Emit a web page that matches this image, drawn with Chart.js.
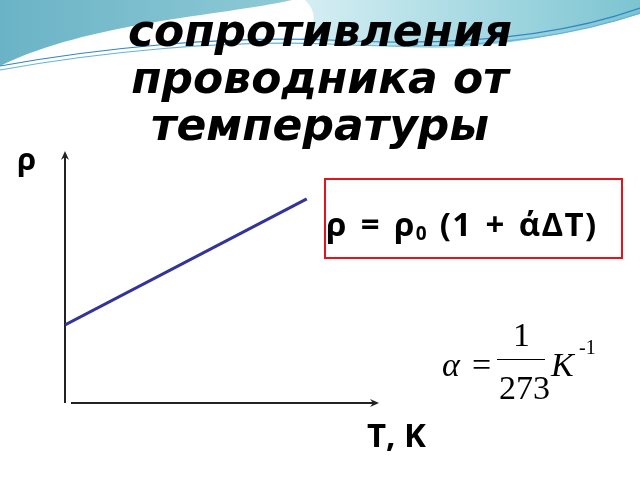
<!DOCTYPE html>
<html>
<head>
<meta charset="utf-8">
<script src="https://cdn.jsdelivr.net/npm/chart.js@4.4.1/dist/chart.umd.min.js"></script>
<style>
  body { margin: 0; background: #fff; }
  #wrap { position: relative; width: 640px; height: 480px; overflow: hidden; }
  #myChart { position: absolute; left: 0; top: 0; }
  .t { position: absolute; white-space: nowrap; color: #000; }
  #title { left: 0; width: 640px; top: 7px; text-align: center; font: italic bold 44px "DejaVu Sans"; line-height: 47px; }
  #box { position: absolute; left: 324px; top: 178px; width: 295px; height: 77px; border: 2px solid #e3151a; }
  #law { left: 326px; top: 201px; font: 700 33px "Open Sans"; letter-spacing: 1.4px; word-spacing: 3px; }
  #law sub { font-size: 19px; vertical-align: -4px; letter-spacing: 0; }
  .serif { font-family: "Liberation Serif"; font-size: 34px; }
  #frac { position: absolute; left: 497px; top: 359px; width: 48px; height: 0; border-top: 1.5px solid #000; }
</style>
</head>
<body>
<div id="wrap">
  <canvas id="myChart" width="640" height="480"></canvas>
  <div class="t" id="title">сопротивления<br>проводника от<br>температуры</div>
  <div id="box"></div>
  <div class="t" id="law">ρ = ρ<sub>0</sub> (1 + άΔT)</div>
  <div class="t serif" style="left:442px; top:346px; font-style:italic;">α</div>
  <div class="t serif" style="left:472px; top:346px;">=</div>
  <div class="t serif" style="left:513px; top:316px;">1</div>
  <div id="frac"></div>
  <div class="t serif" style="left:499px; top:369px;">273</div>
  <div class="t serif" style="left:551px; top:346px; font-style:italic;">K</div>
  <div class="t serif" style="left:579px; top:336px; font-size:20px;">-1</div>
  <div class="t" style="left:17px; top:137px; font: 700 31px 'Open Sans';">ρ</div>
  <div class="t" style="left:367px; top:412px; font: 700 33px 'Open Sans';">T, K</div>
</div>
<script>
// температура и удельное сопротивление (условные единицы)
var tempValues = [0, 77];
var rhoValues = [31, 81];

var points = tempValues.map(function (t, i) { return {x: t, y: rhoValues[i]}; });

function arrow(ctx, x, y, dx, dy) {
  ctx.save();
  ctx.translate(x, y);
  ctx.rotate(Math.atan2(dy, dx));
  ctx.beginPath();
  ctx.moveTo(0, 0);
  ctx.lineTo(-9, -4);
  ctx.lineTo(-6, 0);
  ctx.lineTo(-9, 4);
  ctx.closePath();
  ctx.fill();
  ctx.restore();
}

// фоновая «волна» слайда
var decor = {
  id: "decor",
  beforeDraw: function (chart) {
    var ctx = chart.ctx;
    ctx.save();
    var g = ctx.createLinearGradient(0, 0, 290, 0);
    g.addColorStop(0, "#6ab3c6");
    g.addColorStop(1, "#8fcad6");
    ctx.fillStyle = g;
    ctx.beginPath();
    ctx.moveTo(0, 0);
    ctx.lineTo(292, 0);
    ctx.bezierCurveTo(220, 16, 90, 22, 0, 66);
    ctx.closePath();
    ctx.fill();

    var g2 = ctx.createLinearGradient(300, 0, 640, 0);
    g2.addColorStop(0, "#d6eff3");
    g2.addColorStop(0.5, "#a9dae3");
    g2.addColorStop(1, "#7cc4d1");
    ctx.fillStyle = g2;
    ctx.beginPath();
    ctx.moveTo(305, 0);
    ctx.lineTo(640, 0);
    ctx.lineTo(640, 14);
    ctx.bezierCurveTo(580, 32, 500, 48, 430, 48);
    ctx.bezierCurveTo(380, 47, 330, 42, 300, 40);
    ctx.bezierCurveTo(320, 25, 315, 10, 305, 0);
    ctx.closePath();
    ctx.fill();

    ctx.lineWidth = 1.2;
    ctx.strokeStyle = "#2f86c0";
    ctx.beginPath();
    ctx.moveTo(0, 66);
    ctx.bezierCurveTo(100, 48, 220, 36, 330, 40);
    ctx.bezierCurveTo(440, 46, 550, 40, 640, 8);
    ctx.stroke();
    ctx.strokeStyle = "#63b4d8";
    ctx.beginPath();
    ctx.moveTo(0, 70);
    ctx.bezierCurveTo(100, 52, 220, 40, 330, 44);
    ctx.bezierCurveTo(440, 50, 550, 44, 640, 13);
    ctx.stroke();
    ctx.restore();
  },
  beforeDatasetsDraw: function (chart) {
    var ctx = chart.ctx, a = chart.chartArea;
    ctx.save();
    ctx.strokeStyle = "#222";
    ctx.fillStyle = "#222";
    ctx.lineWidth = 2;
    ctx.beginPath();
    ctx.moveTo(a.left, a.bottom);
    ctx.lineTo(a.left, a.top + 4);
    ctx.moveTo(a.left + 6, a.bottom);
    ctx.lineTo(a.right - 4, a.bottom);
    ctx.stroke();
    arrow(ctx, a.left, a.top, 0, -1);
    arrow(ctx, a.right, a.bottom, 1, 0);
    ctx.restore();
  }
};

new Chart("myChart", {
  type: "line",
  data: {
    datasets: [{
      data: points,
      borderColor: "#333399",
      borderWidth: 3,
      pointRadius: 0
    }]
  },
  options: {
    responsive: false,
    animation: false,
    layout: {padding: {left: 65, right: 261, top: 151, bottom: 77}},
    plugins: {legend: {display: false}, tooltip: {enabled: false}},
    scales: {
      x: {type: "linear", min: 0, max: 100, display: false},
      y: {min: 0, max: 100, display: false}
    }
  },
  plugins: [decor]
});
</script>
</body>
</html>
